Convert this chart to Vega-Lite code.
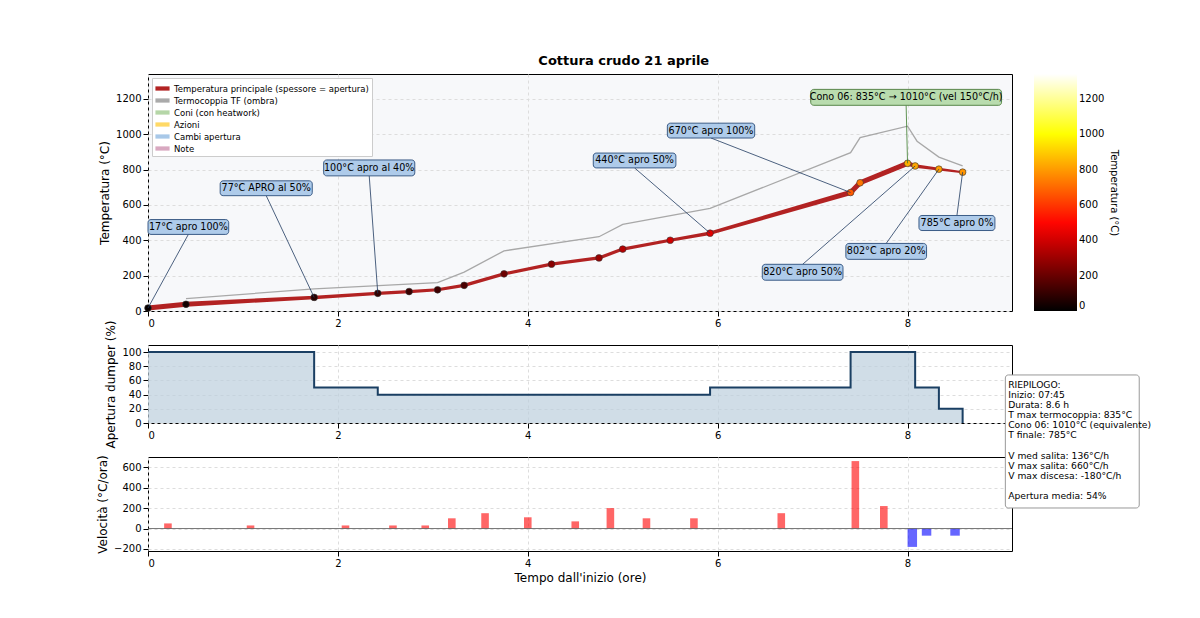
{
  "$schema": "https://vega.github.io/schema/vega-lite/v6.json",
  "title": {"text": "Cottura crudo 21 aprile", "fontSize": 13, "fontWeight": "bold", "offset": 6, "anchor": "middle", "font": "DejaVu Sans"},
  "padding": {"left": 96, "top": 54, "right": 20, "bottom": 20},
  "spacing": 34,
  "bounds": "flush",
  "config": {
    "font": "DejaVu Sans",
    "view": {"stroke": "#000", "strokeWidth": 1},
    "axis": {"grid": true, "gridDash": [3, 3], "gridColor": "#dddddd", "labelFontSize": 10, "titleFontSize": 12, "titleFontWeight": "normal", "tickColor": "#000", "domain": false, "labelColor": "#000", "titleColor": "#000", "format": "d", "labelOverlap": false}
  },
  "datasets": {
    "main": [
      {"t": 0, "temp": 17, "ap": 100}, {"t": 0.4, "temp": 38, "ap": 100}, {"t": 1.75, "temp": 77, "ap": 50},
      {"t": 2.42, "temp": 100, "ap": 40}, {"t": 2.75, "temp": 110, "ap": 40}, {"t": 3.05, "temp": 120, "ap": 40},
      {"t": 3.33, "temp": 145, "ap": 40}, {"t": 3.75, "temp": 210, "ap": 40}, {"t": 4.25, "temp": 265, "ap": 40},
      {"t": 4.75, "temp": 300, "ap": 40}, {"t": 5.0, "temp": 350, "ap": 40}, {"t": 5.5, "temp": 400, "ap": 40},
      {"t": 5.92, "temp": 440, "ap": 50}, {"t": 7.4, "temp": 670, "ap": 100}, {"t": 7.5, "temp": 725, "ap": 100},
      {"t": 8.0, "temp": 835, "ap": 100}, {"t": 8.08, "temp": 820, "ap": 50}, {"t": 8.33, "temp": 802, "ap": 20},
      {"t": 8.58, "temp": 785, "ap": 0}
    ],
    "tf": [
      {"t": 0.4, "temp": 70}, {"t": 1.75, "temp": 125}, {"t": 3.05, "temp": 160}, {"t": 3.33, "temp": 220},
      {"t": 3.75, "temp": 340}, {"t": 4.75, "temp": 420}, {"t": 5.0, "temp": 490}, {"t": 5.92, "temp": 580},
      {"t": 7.4, "temp": 895}, {"t": 7.5, "temp": 980}, {"t": 8.0, "temp": 1045}, {"t": 8.1, "temp": 960},
      {"t": 8.33, "temp": 870}, {"t": 8.58, "temp": 820}
    ],
    "ann": [
      {"label": "17°C apro 100%", "x1": 0.0, "x2": 0.85, "y1": 433, "y2": 517, "px": 0, "py": 17, "kind": "a"},
      {"label": "77°C APRO al 50%", "x1": 0.76, "x2": 1.73, "y1": 652, "y2": 736, "px": 1.75, "py": 77, "kind": "a"},
      {"label": "100°C apro al 40%", "x1": 1.85, "x2": 2.81, "y1": 764, "y2": 854, "px": 2.42, "py": 100, "kind": "a"},
      {"label": "440°C apro 50%", "x1": 4.69, "x2": 5.56, "y1": 809, "y2": 893, "px": 5.92, "py": 440, "kind": "a"},
      {"label": "670°C apro 100%", "x1": 5.47, "x2": 6.39, "y1": 978, "y2": 1062, "px": 7.4, "py": 670, "kind": "a"},
      {"label": "Cono 06: 835°C → 1010°C (vel 150°C/h)", "x1": 6.98, "x2": 8.99, "y1": 1163, "y2": 1253, "px": 8.0, "py": 835, "kind": "c"},
      {"label": "820°C apro 50%", "x1": 6.47, "x2": 7.32, "y1": 174, "y2": 264, "px": 8.08, "py": 820, "kind": "a"},
      {"label": "802°C apro 20%", "x1": 7.35, "x2": 8.2, "y1": 292, "y2": 382, "px": 8.33, "py": 802, "kind": "a"},
      {"label": "785°C apro 0%", "x1": 8.12, "x2": 8.92, "y1": 455, "y2": 540, "px": 8.58, "py": 785, "kind": "a"}
    ],
    "leg": [
      {"k": "Temperatura principale (spessore = apertura)"}, {"k": "Termocoppia TF (ombra)"},
      {"k": "Coni (con heatwork)"}, {"k": "Azioni"}, {"k": "Cambi apertura"}, {"k": "Note"}
    ],
    "dumper": [
      {"t": 0, "ap": 100}, {"t": 1.75, "ap": 50}, {"t": 2.42, "ap": 40}, {"t": 5.92, "ap": 50},
      {"t": 7.4, "ap": 100}, {"t": 8.08, "ap": 50}, {"t": 8.33, "ap": 20}, {"t": 8.58, "ap": 0}
    ],
    "vel": [
      {"a": 0.17, "b": 0.25, "v": 50}, {"a": 1.04, "b": 1.12, "v": 30}, {"a": 2.04, "b": 2.12, "v": 30},
      {"a": 2.54, "b": 2.62, "v": 30}, {"a": 2.88, "b": 2.96, "v": 30}, {"a": 3.16, "b": 3.24, "v": 100},
      {"a": 3.51, "b": 3.59, "v": 150}, {"a": 3.96, "b": 4.04, "v": 110}, {"a": 4.46, "b": 4.54, "v": 70},
      {"a": 4.83, "b": 4.91, "v": 200}, {"a": 5.21, "b": 5.29, "v": 100}, {"a": 5.71, "b": 5.79, "v": 100},
      {"a": 6.63, "b": 6.71, "v": 150}, {"a": 7.41, "b": 7.49, "v": 660}, {"a": 7.71, "b": 7.79, "v": 220},
      {"a": 8.0, "b": 8.1, "v": -180}, {"a": 8.15, "b": 8.25, "v": -70}, {"a": 8.45, "b": 8.55, "v": -70}
    ],
    "sumbox": [{"x1": 9.03, "x2": 10.44, "y1": 201, "y2": 1503}],
    "sumtext": [
      {"x": 9.06, "y": 1444, "txt": ["RIEPILOGO:", "Inizio: 07:45", "Durata: 8.6 h", "T max termocoppia: 835°C", "Cono 06: 1010°C (equivalente)", "T finale: 785°C"]},
      {"x": 9.06, "y": 752, "txt": ["V med salita: 136°C/h", "V max salita: 660°C/h", "V max discesa: -180°C/h"]},
      {"x": 9.06, "y": 356, "txt": ["Apertura media: 54%"]}
    ]
  },
  "vconcat": [
    {
      "width": 864, "height": 237,
      "view": {"fill": "#f7f8fa"},
      "resolve": {"scale": {"color": "independent", "fill": "independent"}},
      "encoding": {
        "x": {"type": "quantitative", "scale": {"domain": [0, 9.1], "nice": false}, "axis": {"values": [0, 2, 4, 6, 8], "title": null}},
        "y": {"type": "quantitative", "scale": {"domain": [0, 1340], "nice": false}, "axis": {"values": [0, 200, 400, 600, 800, 1000, 1200], "title": "Temperatura (°C)"}}
      },
      "layer": [
        {
          "data": {"name": "leg"},
          "mark": {"type": "square", "opacity": 0},
          "encoding": {
            "x": {"datum": 0, "type": "quantitative", "scale": {"domain": [0, 9.1], "nice": false}, "axis": {"values": [0, 2, 4, 6, 8], "title": null}},
            "y": {"datum": 0, "type": "quantitative", "scale": {"domain": [0, 1340], "nice": false}, "axis": {"values": [0, 200, 400, 600, 800, 1000, 1200], "title": "Temperatura (°C)"}},
            "color": {"field": "k", "type": "nominal", "sort": null,
              "scale": {"domain": ["Temperatura principale (spessore = apertura)", "Termocoppia TF (ombra)", "Coni (con heatwork)", "Azioni", "Cambi apertura", "Note"],
                "range": ["#b22222", "#aaaaaa", "#b5d6a7", "#ffd966", "#a8c8e8", "#d8a8c0"]},
              "legend": {"title": null, "orient": "top-left", "offset": 4, "fillColor": "white", "strokeColor": "#cccccc", "padding": 3, "labelLimit": 400,
                "labelFontSize": 8.5, "rowPadding": 0, "symbolType": "M-1,-0.3H1V0.3H-1Z", "symbolSize": 200, "symbolOpacity": 1, "symbolStrokeWidth": 0}}
          }
        },
        {
          "data": {"name": "tf"},
          "mark": {"type": "line", "color": "#a8a8a8", "strokeWidth": 1.3},
          "encoding": {"x": {"field": "t"}, "y": {"field": "temp"}}
        },
        {
          "data": {"name": "main"},
          "mark": {"type": "trail", "color": "#b22222"},
          "encoding": {
            "x": {"field": "t"}, "y": {"field": "temp"},
            "size": {"field": "ap", "type": "quantitative", "scale": {"domain": [0, 100], "range": [2, 5]}, "legend": null}
          }
        },
        {
          "data": {"name": "main"},
          "mark": {"type": "circle", "size": 45, "stroke": "#333", "strokeWidth": 0.6, "opacity": 1},
          "encoding": {
            "x": {"field": "t"}, "y": {"field": "temp"},
            "fill": {"field": "temp", "type": "quantitative",
              "scale": {"domain": [0, 490, 1000, 1340], "range": ["#000000", "#ff0000", "#ffff00", "#ffffff"], "interpolate": "rgb"},
              "legend": {"title": "Temperatura (°C)", "orient": "right", "offset": 22, "gradientLength": 237, "gradientThickness": 43, "format": "d",
                "titleOrient": "right", "titleFontWeight": "normal", "titleFontSize": 10, "labelFontSize": 10, "values": [0, 200, 400, 600, 800, 1000, 1200], "gradientStrokeColor": "#000"}}
          }
        },
        {
          "data": {"name": "ann"},
          "transform": [{"calculate": "(datum.x1 + datum.x2) / 2", "as": "tx"}, {"calculate": "datum.py < datum.y1 ? datum.y1 : datum.y2", "as": "ty"}],
          "mark": {"type": "rule", "strokeWidth": 0.8},
          "encoding": {
            "x": {"field": "px"}, "y": {"field": "py"},
            "x2": {"field": "tx"}, "y2": {"field": "ty"},
            "color": {"field": "kind", "type": "nominal", "scale": {"domain": ["a", "c"], "range": ["#1f3a5f", "#3a7a2a"]}, "legend": null}
          }
        },
        {
          "data": {"name": "ann"},
          "mark": {"type": "rect", "cornerRadius": 3, "strokeWidth": 0.9},
          "encoding": {
            "x": {"field": "x1"}, "x2": {"field": "x2"},
            "y": {"field": "y1"}, "y2": {"field": "y2"},
            "fill": {"field": "kind", "type": "nominal", "scale": {"domain": ["a", "c"], "range": ["#aecbea", "#b9dcae"]}, "legend": null},
            "stroke": {"field": "kind", "type": "nominal", "scale": {"domain": ["a", "c"], "range": ["#2a4d7a", "#4a7a3a"]}, "legend": null}
          }
        },
        {
          "data": {"name": "ann"},
          "transform": [{"calculate": "(datum.x1 + datum.x2) / 2", "as": "cx"}, {"calculate": "(datum.y1 + datum.y2) / 2", "as": "cy"}],
          "mark": {"type": "text", "fontSize": 9.6, "color": "#000", "baseline": "middle", "align": "center"},
          "encoding": {"x": {"field": "cx"}, "y": {"field": "cy"}, "text": {"field": "label"}}
        }
      ]
    },
    {
      "width": 864, "height": 78,
      "data": {"name": "dumper"},
      "mark": {"type": "area", "interpolate": "step-after", "fill": "#bccfdd", "line": {"color": "#1a3f63", "strokeWidth": 2}},
      "encoding": {
        "x": {"field": "t", "type": "quantitative", "scale": {"domain": [0, 9.1], "nice": false}, "axis": {"values": [0, 2, 4, 6, 8], "title": null}},
        "y": {"field": "ap", "type": "quantitative", "scale": {"domain": [0, 110], "nice": false}, "axis": {"values": [0, 20, 40, 60, 80, 100], "title": "Apertura dumper (%)"}}
      }
    },
    {
      "width": 864, "height": 94,
      "encoding": {
        "x": {"type": "quantitative", "scale": {"domain": [0, 9.1], "nice": false}, "axis": {"values": [0, 2, 4, 6, 8], "title": "Tempo dall'inizio (ore)"}},
        "y": {"type": "quantitative", "scale": {"domain": [-220, 700], "nice": false}, "axis": {"values": [-200, 0, 200, 400, 600], "title": "Velocità (°C/ora)"}}
      },
      "layer": [
        {
          "data": {"name": "vel"},
          "mark": {"type": "bar", "opacity": 0.6},
          "encoding": {
            "x": {"field": "a"}, "x2": {"field": "b"},
            "y": {"field": "v"}, "y2": {"datum": 0},
            "color": {"condition": {"test": "datum.v < 0", "value": "#0000ff"}, "value": "#ff0000"}
          }
        },
        {
          "data": {"name": "sumbox"},
          "mark": {"type": "rule", "color": "#555", "strokeWidth": 0.8},
          "encoding": {"x": {"datum": 0}, "x2": {"datum": 9.1}, "y": {"datum": 0}}
        },
        {
          "data": {"name": "sumbox"},
          "mark": {"type": "rect", "fill": "white", "stroke": "#999", "strokeWidth": 1, "cornerRadius": 3, "clip": false},
          "encoding": {"x": {"field": "x1"}, "x2": {"field": "x2"}, "y": {"field": "y1"}, "y2": {"field": "y2"}}
        },
        {
          "data": {"name": "sumtext"},
          "mark": {"type": "text", "align": "left", "baseline": "top", "fontSize": 9.2, "lineHeight": 10.1, "clip": false},
          "encoding": {"x": {"field": "x"}, "y": {"field": "y"}, "text": {"field": "txt"}}
        }
      ]
    }
  ]
}
